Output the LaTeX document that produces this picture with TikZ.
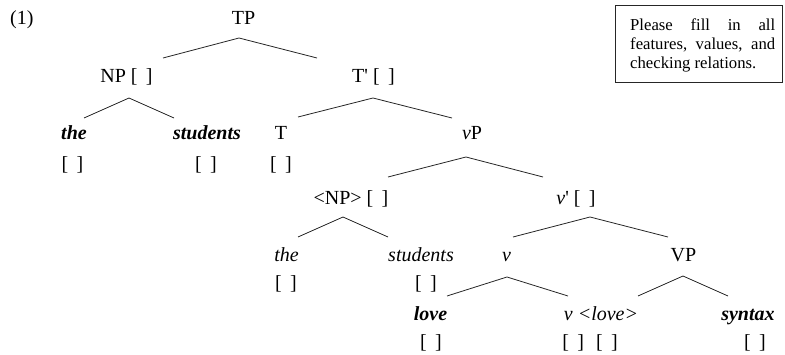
\documentclass[tikz,border=0pt]{standalone}
\usepackage{fontspec}
\setmainfont{Liberation Serif}[Ligatures=TeXOff]
\newcommand{\treefont}{\fontsize{20}{24}\selectfont}
\newcommand{\notefont}{\fontsize{16.7}{19}\selectfont}
\newcommand{\emptyf}{[\hspace{0.42em}]}
\begin{document}
\begin{tikzpicture}[x=1pt,y=-1pt,
  lbl/.style={font=\treefont, inner sep=0pt, anchor=base},
  branch/.style={line width=0.8pt, black!85}]
\useasboundingbox (0,0) rectangle (785,355);

% example number
\node[lbl, anchor=base west] (exnum) at (10,25) {(1)};

% tree labels
\node[lbl] (TP)    at (243.5,25)  {TP};
\node[lbl] (NP)    at (126.5,83)  {NP \emptyf};
\node[lbl] (Tbar)  at (373.5,83)  {T\textquotesingle{} \emptyf};
\node[lbl] (theA)  at (74,140)    {\textbf{\textit{the}}};
\node[lbl] (studA) at (207,140)   {\textbf{\textit{students}}};
\node[lbl] (T)     at (281,140)   {T};
\node[lbl] (vP)    at (472,140)   {\textit{v}P};
\node[lbl] (fTheA) at (72.5,171)  {\emptyf};
\node[lbl] (fStudA) at (206,171)  {\emptyf};
\node[lbl] (fT)    at (281,171)   {\emptyf};
\node[lbl] (NPt)   at (351,205)   {<NP> \emptyf};
\node[lbl] (vbar)  at (576,205)   {\textit{v}\textquotesingle{} \emptyf};
\node[lbl] (theB)  at (286.5,262) {\textit{the}};
\node[lbl] (studB) at (421,262)   {\textit{students}};
\node[lbl] (v)     at (506.5,262) {\textit{v}};
\node[lbl] (VP)    at (683.5,262) {VP};
\node[lbl] (fTheB) at (286,290)   {\emptyf};
\node[lbl] (fStudB) at (426,290)  {\emptyf};
\node[lbl] (love)  at (430.5,321) {\textbf{\textit{love}}};
\node[lbl] (vlove) at (601,321)   {\textit{v <love>}};
\node[lbl] (syntax) at (748,321)  {\textbf{\textit{syntax}}};
\node[lbl] (fLove) at (431,349)   {\emptyf};
\node[lbl] (fVlove) at (590,349)  {\emptyf\hspace{0.6em}\emptyf};
\node[lbl] (fSyntax) at (755,349) {\emptyf};

% branches
\draw[branch] ([shift={(36.5,-25)}]NP.base) -- ([shift={(-4.5,13)}]TP.base) -- ([shift={(-56.5,-25)}]Tbar.base);
\draw[branch] ([shift={(10,-22)}]theA.base) -- ([shift={(2.5,15)}]NP.base) -- ([shift={(-33,-22)}]studA.base);
\draw[branch] ([shift={(17,-23)}]T.base) -- ([shift={(-0.5,15)}]Tbar.base) -- ([shift={(-20,-22)}]vP.base);
\draw[branch] ([shift={(37,-28)}]NPt.base) -- ([shift={(-6,17)}]vP.base) -- ([shift={(-33,-28)}]vbar.base);
\draw[branch] ([shift={(11.5,-25)}]theB.base) -- ([shift={(-8,12)}]NPt.base) -- ([shift={(-33,-25)}]studB.base);
\draw[branch] ([shift={(6.5,-25)}]v.base) -- ([shift={(14,12)}]vbar.base) -- ([shift={(-15.5,-25)}]VP.base);
\draw[branch] ([shift={(16.5,-25)}]love.base) -- ([shift={(0.5,15)}]v.base) -- ([shift={(-33,-25)}]vlove.base);
\draw[branch] ([shift={(37,-25)}]vlove.base) -- ([shift={(-0.5,14)}]VP.base) -- ([shift={(-20,-25)}]syntax.base);

% instruction box
\node[draw, line width=0.8pt, black!85, minimum width=167pt, minimum height=77pt,
      anchor=north west, inner sep=0pt] (frame) at (615,5) {};
\node[font=\notefont, text width=145pt, align=justify, inner sep=0pt,
      anchor=north west] (note) at (630,18.6)
  {\hyphenpenalty=10000 Please fill in all\linebreak features, values, and\linebreak checking relations.};
\end{tikzpicture}
\end{document}
